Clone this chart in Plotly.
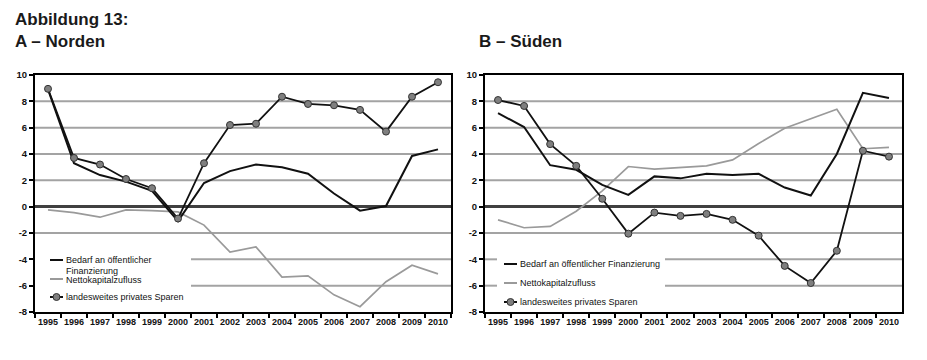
import plotly.graph_objects as go

# ---------------- data ----------------
years = [str(y) for y in range(1995, 2011)]
y_ticks = [10, 8, 6, 4, 2, 0, -2, -4, -6, -8]

nord_bedarf = [8.9, 3.3, 2.4, 1.9, 1.2, -1.1, 1.8, 2.7, 3.2, 3.0, 2.5, 1.0, -0.3, 0.05, 3.85, 4.35]
nord_netto = [-0.25, -0.45, -0.8, -0.25, -0.3, -0.4, -1.4, -3.45, -3.05, -5.35, -5.25, -6.7, -7.6, -5.7, -4.45, -5.1]
nord_sparen = [8.95, 3.7, 3.2, 2.1, 1.4, -0.9, 3.3, 6.2, 6.3, 8.35, 7.8, 7.7, 7.35, 5.7, 8.35, 9.45]

sued_bedarf = [7.1, 6.05, 3.15, 2.8, 1.65, 0.9, 2.3, 2.15, 2.5, 2.4, 2.5, 1.45, 0.85, 4.0, 8.65, 8.25]
sued_netto = [-1.0, -1.6, -1.5, -0.35, 1.2, 3.05, 2.85, 2.95, 3.1, 3.55, 4.8, 5.95, 6.7, 7.4, 4.4, 4.5]
sued_sparen = [8.1, 7.65, 4.75, 3.1, 0.6, -2.05, -0.45, -0.7, -0.55, -1.0, -2.2, -4.5, -5.8, -3.35, 4.25, 3.8]

label_bedarf = "Bedarf an öffentlicher Finanzierung"
label_netto = "Nettokapitalzufluss"
label_sparen = "landesweites privates Sparen"

# ---------------- styling ----------------
OFF = 8  # default page (body) margin in the browser
W, H = 927 - OFF, 360 - OFF
FONT = "Liberation Sans, Arial, Helvetica, sans-serif"
BLACK = "#111111"
GRAY_LINE = "#9a9a9a"
GRID = "#a3a3a3"
ZERO = "#404040"
MARKER_FILL = "#7f7f7f"

# plot-area pixel boxes (screen pixels)
L_X0, L_X1 = 35, 451
R_X0, R_X1 = 485, 902
P_Y0, P_Y1 = 75, 312


def px_x(x):
    return (x - OFF) / W


def px_y(y):
    return 1 - (y - OFF) / H


fig = go.Figure()


def add_panel(xa, ya, bedarf, netto, sparen):
    fig.add_trace(go.Scatter(x=years, y=netto, mode="lines", xaxis=xa, yaxis=ya,
                             line=dict(color=GRAY_LINE, width=1.7), showlegend=False,
                             name=label_netto))
    fig.add_trace(go.Scatter(x=years, y=bedarf, mode="lines", xaxis=xa, yaxis=ya,
                             line=dict(color=BLACK, width=2), showlegend=False,
                             name=label_bedarf))
    fig.add_trace(go.Scatter(x=years, y=sparen, mode="lines+markers", xaxis=xa, yaxis=ya,
                             line=dict(color=BLACK, width=1.8),
                             marker=dict(size=7, color=MARKER_FILL, line=dict(color="#333333", width=1)),
                             showlegend=False, name=label_sparen))


add_panel("x", "y", nord_bedarf, nord_netto, nord_sparen)
add_panel("x2", "y2", sued_bedarf, sued_netto, sued_sparen)

xaxis_common = dict(
    type="category", categoryorder="array", categoryarray=years,
    range=[-0.5, len(years) - 0.5],
    showgrid=False, zeroline=False,
    showline=True, linecolor="black", linewidth=2, mirror=True,
    ticks="outside", tickson="boundaries", ticklen=4, tickwidth=1.5, tickcolor="black",
    tickangle=0, automargin=False,
    tickfont=dict(family=FONT, size=9, color="#111111", weight="bold"),
    fixedrange=True,
)
yaxis_common = dict(
    range=[-8, 10], tickvals=y_ticks, ticktext=[str(v) for v in y_ticks],
    showgrid=False,
    zeroline=True, zerolinecolor=ZERO, zerolinewidth=3,
    showline=True, linecolor="black", linewidth=2, mirror=True,
    ticks="outside", ticklen=4, tickwidth=1.5, tickcolor="black",
    automargin=False,
    tickfont=dict(family=FONT, size=9.5, color="#111111", weight="bold"),
    fixedrange=True,
)

ydom = [px_y(P_Y1), px_y(P_Y0)]
fig.update_layout(
    width=W, height=H,
    margin=dict(l=0, r=0, t=0, b=0),
    paper_bgcolor="white", plot_bgcolor="white",
    showlegend=False,
    xaxis=dict(xaxis_common, domain=[px_x(L_X0), px_x(L_X1)], anchor="y"),
    yaxis=dict(yaxis_common, domain=ydom, anchor="x"),
    xaxis2=dict(xaxis_common, domain=[px_x(R_X0), px_x(R_X1)], anchor="y2"),
    yaxis2=dict(yaxis_common, domain=ydom, anchor="x2"),
)

annotations = []
shapes = []


# horizontal gridlines (interrupted where the legend box sits)
def gridlines(xr, yr, px0, px1, box):
    gap_start = (box[0] - px0) / (px1 - px0)
    gap_end = (box[1] - px0) / (px1 - px0)
    for v in y_ticks:
        if v in (0, 10, -8):
            continue
        if v in (-4, -6):
            segs = [(gap_end, 1)]
            if gap_start > 0.005:
                segs.append((0, gap_start))
        else:
            segs = [(0, 1)]
        for a, b in segs:
            shapes.append(dict(type="line", xref=xr + " domain", yref=yr,
                               x0=a, x1=b, y0=v, y1=v,
                               line=dict(color=GRID, width=2), layer="below"))


# titles
def title(text, x, y):
    annotations.append(dict(text=text, x=px_x(x), y=px_y(y), xref="paper", yref="paper",
                            xanchor="left", yanchor="middle", showarrow=False,
                            font=dict(family=FONT, size=17, color="#1a1a1a", weight="bold")))


title("Abbildung 13:", 13, 20)
title("A – Norden", 13, 41)
title("B – Süden", 477, 41)


# manual legends (paper coordinates)
def legend(items):
    for kind, lx0, lx1, ly, texts in items:
        col = GRAY_LINE if kind == "netto" else BLACK
        shapes.append(dict(type="line", xref="paper", yref="paper",
                           x0=px_x(lx0), x1=px_x(lx1), y0=px_y(ly), y1=px_y(ly),
                           line=dict(color=col, width=2), layer="above"))
        if kind == "sparen":
            cx = (lx0 + lx1) / 2
            shapes.append(dict(type="circle", xref="paper", yref="paper",
                               x0=px_x(cx - 3.5), x1=px_x(cx + 3.5),
                               y0=px_y(ly + 3.5), y1=px_y(ly - 3.5),
                               fillcolor=MARKER_FILL, line=dict(color="#333333", width=1),
                               layer="above"))
        for txt, ty in texts:
            annotations.append(dict(text=txt, xref="paper", yref="paper",
                                    x=px_x(lx1 + 0.5), y=px_y(ty),
                                    xanchor="left", yanchor="middle", showarrow=False,
                                    font=dict(family=FONT, size=9, color="#111111")))


gridlines("x", "y", L_X0, L_X1, (35, 191))
gridlines("x2", "y2", R_X0, R_X1, (497, 665))

legend([
    ("bedarf", 50, 63, 260, [("Bedarf an öffentlicher", 260), ("Finanzierung", 270.5)]),
    ("netto", 50, 63, 279, [(label_netto, 280)]),
    ("sparen", 50, 63, 297, [(label_sparen, 297)]),
])
legend([
    ("bedarf", 504, 517, 264, [(label_bedarf, 264)]),
    ("netto", 504, 517, 283, [(label_netto, 283)]),
    ("sparen", 504, 517, 302, [(label_sparen, 302)]),
])

fig.update_layout(annotations=annotations, shapes=shapes)

fig.write_html("out.html")
